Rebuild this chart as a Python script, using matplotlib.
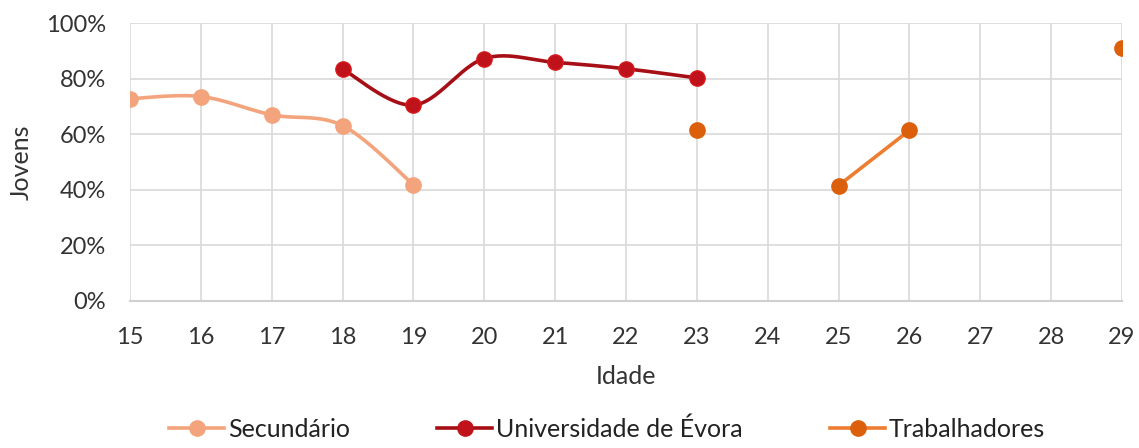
import numpy as np
import matplotlib
matplotlib.use("Agg")
import matplotlib.pyplot as plt
from matplotlib.ticker import PercentFormatter

plt.rcParams["font.family"] = ["Lato", "DejaVu Sans"]

# Data (share of young people, by age)
sec_age = [15, 16, 17, 18, 19]
sec_val = [0.728, 0.736, 0.670, 0.631, 0.418]

uni_age = [18, 19, 20, 21, 22, 23]
uni_val = [0.835, 0.705, 0.873, 0.859, 0.836, 0.803]

trab_age = [23, 25, 26, 29]
trab_val = [0.616, 0.415, 0.614, 0.911]

x_ticks = list(range(15, 30))
y_ticks = [0, 0.2, 0.4, 0.6, 0.8, 1.0]


def smooth(xs, ys, n=30):
    """Excel-like smoothed line: cubic Bezier with Catmull-Rom control points."""
    xs, ys = np.asarray(xs, float), np.asarray(ys, float)
    if len(xs) < 3:
        return xs, ys
    px, py = [xs[0]], [ys[0]]
    t = np.linspace(0, 1, n)[1:]
    for i in range(len(xs) - 1):
        p0 = np.array([xs[max(i - 1, 0)], ys[max(i - 1, 0)]])
        p1 = np.array([xs[i], ys[i]])
        p2 = np.array([xs[i + 1], ys[i + 1]])
        p3 = np.array([xs[min(i + 2, len(xs) - 1)], ys[min(i + 2, len(xs) - 1)]])
        c1 = p1 + (p2 - p0) / 6
        c2 = p2 - (p3 - p1) / 6
        b = ((1 - t) ** 3)[:, None] * p1 + (3 * (1 - t) ** 2 * t)[:, None] * c1 \
            + (3 * (1 - t) * t ** 2)[:, None] * c2 + (t ** 3)[:, None] * p2
        px += list(b[:, 0])
        py += list(b[:, 1])
    return np.array(px), np.array(py)


fig = plt.figure(figsize=(11.39, 4.48), dpi=100)
ax = fig.add_axes([0.1141, 0.329, 0.8710, 0.619])

SEC_C = "#F4A47C"
UNI_LINE, UNI_MK = "#A50F15", "#C0121A"
TRAB_LINE, TRAB_MK = "#ED7D31", "#DC5F0C"

sx, sy = smooth(sec_age, sec_val)
ax.plot(sx, sy, color=SEC_C, lw=2.6, zorder=3)
ax.plot(sec_age, sec_val, "o", color=SEC_C, ms=11, zorder=4)

ux, uy = smooth(uni_age, uni_val)
ax.plot(ux, uy, color=UNI_LINE, lw=2.6, zorder=3)
ax.plot(uni_age, uni_val, "o", color=UNI_MK, mec="#D7191C", mew=1, ms=11, zorder=4)

# Trabalhadores: only 25-26 are consecutive ages, others are isolated points
ax.plot(trab_age[1:3], trab_val[1:3], color=TRAB_LINE, lw=2.6, zorder=3)
ax.plot(trab_age, trab_val, "o", color=TRAB_MK, ms=11, zorder=4)

# legend proxies
ax.plot([], [], "-o", color=SEC_C, lw=2.6, ms=11, label="Secundário")
ax.plot([], [], "-o", color=UNI_LINE, mfc=UNI_MK, mec=UNI_MK, lw=2.6, ms=11,
        label="Universidade de Évora")
ax.plot([], [], "-o", color=TRAB_LINE, mfc=TRAB_MK, mec=TRAB_MK, lw=2.6, ms=11,
        label="Trabalhadores")

ax.set_xlim(15, 29)
ax.set_ylim(0, 1)
ax.set_xticks(x_ticks)
ax.set_yticks(y_ticks)
ax.yaxis.set_major_formatter(PercentFormatter(1.0, decimals=0))
ax.grid(True, color="#D9D9D9", lw=1.2)
ax.set_axisbelow(True)
for side in ["top", "right", "left"]:
    ax.spines[side].set_visible(False)
ax.spines["bottom"].set_color("#D0D0D0")
ax.spines["bottom"].set_linewidth(1.5)
ax.tick_params(length=0, labelsize=17, colors="#333333")
ax.tick_params(axis="x", pad=19)
ax.tick_params(axis="y", pad=17)
for lab in ax.get_xticklabels() + ax.get_yticklabels():
    lab.set_color("#333333")

ax.set_xlabel("Idade", fontsize=18, color="#333333", labelpad=12)
ax.set_ylabel("Jovens", fontsize=18, color="#333333", labelpad=10)

fig.legend(loc="lower center", bbox_to_anchor=(0.533, -0.035), ncol=3, frameon=False,
           fontsize=18, handlelength=2.2, handletextpad=0.15, columnspacing=3.5,
           labelcolor="#222222")

fig.savefig("out.png", dpi=100)
